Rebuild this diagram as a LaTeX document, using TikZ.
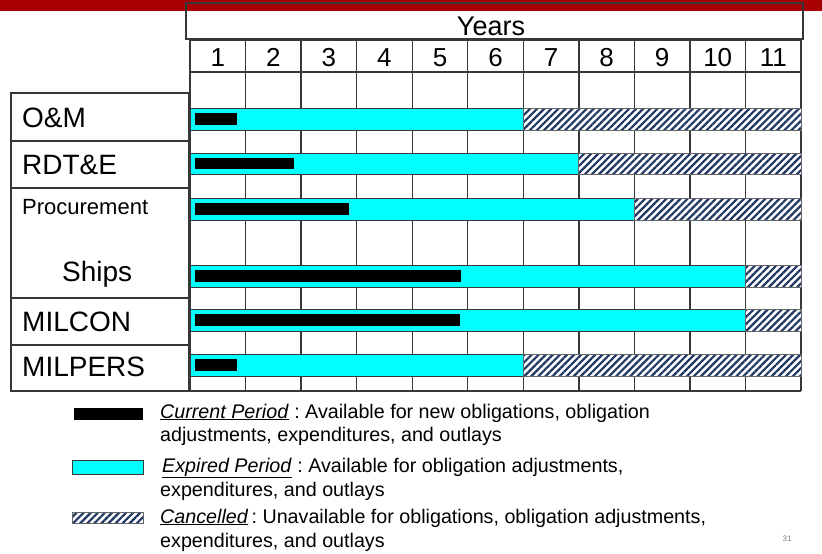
\documentclass[tikz,border=0pt]{standalone}
\usepackage{fontspec}
\setmainfont{Liberation Sans}
\usetikzlibrary{patterns.meta}
\definecolor{bandred}{RGB}{168,0,0}
\definecolor{gridc}{RGB}{55,55,55}
\definecolor{hatchc}{RGB}{31,56,100}
\definecolor{barcyan}{RGB}{0,255,255}
\begin{document}
\frenchspacing
\begin{tikzpicture}[x=1pt,y=-1pt,
  gridline/.style={draw=gridc, line width=1.4pt},
  labelbox/.style={draw=gridc, line width=1.4pt, fill=white},
  cyanbar/.style={fill=barcyan, draw=gridc, line width=1pt},
  curbar/.style={fill=black},
  hatchbar/.style={preaction={fill=white}, pattern={Lines[angle=45,distance=5pt,line width=2.2pt]}, pattern color=hatchc, draw=gray!80!black, line width=1pt},
  bigtxt/.style={font=\fontsize{28}{30}\selectfont, anchor=base west, inner sep=0pt},
  proctxt/.style={font=\fontsize{22}{24}\selectfont, anchor=base west, inner sep=0pt},
  numtxt/.style={font=\fontsize{26}{28}\selectfont, anchor=base, inner sep=0pt},
  legtxt/.style={font=\fontsize{19.7}{23}\selectfont\frenchspacing, anchor=base west, inner sep=0pt}
]
\useasboundingbox[fill=white] (0,0) rectangle (822,554);
% top band
\fill[bandred] (0,0) rectangle (822,11);
% Years box
\draw[gridline] (186,3) rectangle (803,39);
\node[font=\fontsize{27}{29}\selectfont, anchor=base, inner sep=0pt] (years) at (491,35) {Years};
% grid
\draw[gridline] (190,40) rectangle (801,72);
\draw[gridline] (190,72) -- (801,72);
\draw[gridline] (190,391) -- (801,391);
\foreach \i in {0,...,11} {
  \draw[gridline] ({190+55.55*\i},40) -- ({190+55.55*\i},391);
}
\foreach \i in {1,...,11} {
  \node[numtxt] (n\i) at ({190+55.55*(\i-0.5)},66) {\i};
}
% label boxes
\draw[labelbox] (11,93) rectangle (189,141);
\draw[labelbox] (11,141) rectangle (189,188);
\draw[labelbox] (11,188) rectangle (189,298);
\draw[labelbox] (11,298) rectangle (189,345);
\draw[labelbox] (11,345) rectangle (189,391);
\node[bigtxt] (om) at (22,127) {O\&M};
\node[bigtxt] (rdte) at (22,174) {RDT\&E};
\node[proctxt] (proc) at (22,214) {Procurement};
\node[bigtxt] (ships) at (62,281) {Ships};
\node[bigtxt] (milcon) at (22,331) {MILCON};
\node[bigtxt] (milpers) at (22,376) {MILPERS};
% bars: top, bottom, cyan end, black end
\foreach \t/\b/\e/\k in {108/130/523.3/237, 153/174/578.9/294, 198/220/634.4/349, 265/287/745.5/461, 309/331/745.5/460, 354/376/523.3/237} {
  \draw[cyanbar] (190,\t) rectangle (\e,\b);
  \draw[hatchbar] (\e,\t) rectangle (801,\b);
  \fill[curbar] (195,\t+5) rectangle (\k,\b-5);
}
% legend
\fill[curbar] (74,408) rectangle (143,420);
\draw[cyanbar] (72,460) rectangle (143,474);
\draw[hatchbar] (72,512) rectangle (143,523);
\node[legtxt] (l1a) at (160,418) {\underline{\textit{Current Period}} : Available for new obligations, obligation};
\node[legtxt] (l1b) at (160,441) {adjustments, expenditures, and outlays};
\node[legtxt] (l2a) at (162,472) {\underline{\textit{Expired Period}} : Available for obligation adjustments,};
\node[legtxt] (l2b) at (160,496) {expenditures, and outlays};
\node[legtxt] (l3a) at (160,523) {\underline{\textit{Cancelled}}\,: Unavailable for obligations, obligation adjustments,};
\node[legtxt] (l3b) at (160,547) {expenditures, and outlays};
\node[font=\fontsize{8}{9}\selectfont, text=gray, inner sep=0pt] (pg) at (787,539) {31};
\end{tikzpicture}
\end{document}
